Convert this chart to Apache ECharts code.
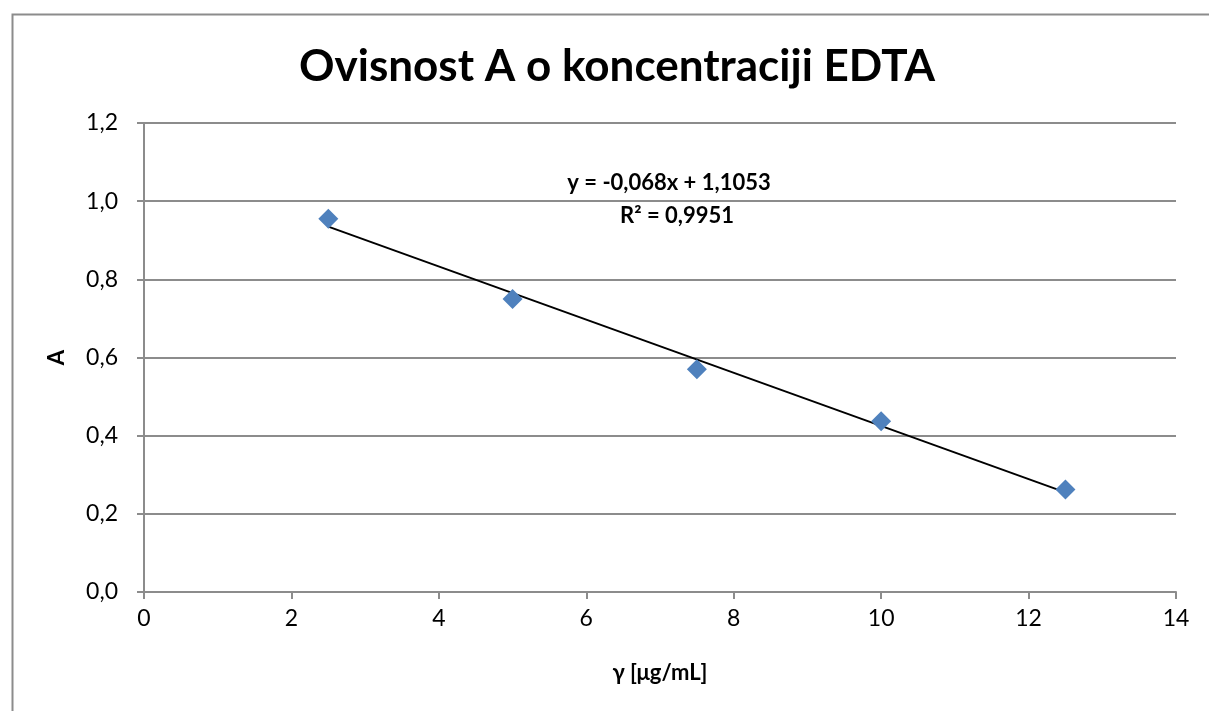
<!DOCTYPE html>
<html>
<head>
<meta charset="utf-8">
<script src="https://cdn.jsdelivr.net/npm/echarts@6/dist/echarts.min.js"></script>
<style>
  html, body { margin: 0; padding: 0; background: #fff; }
  #chart { width: 1209px; height: 711px; }
</style>
</head>
<body>
<div id="chart"></div>
<script>
// measured points: concentration (µg/mL) vs absorbance
const concentration = [2.5, 5, 7.5, 10, 12.5];
const absorbance = [0.955, 0.750, 0.570, 0.437, 0.262];
// linear trendline ends
const trendX = [2.5, 12.5];
const trendY = [0.935, 0.255];
const trendText = ["y = -0,068x + 1,1053", "R² = 0,9951"];

const font = "Lato, 'Open Sans', sans-serif";
const gridGray = "#8c8c8c";

const chart = echarts.init(document.getElementById("chart"));

chart.setOption({
  animation: false,
  backgroundColor: "#fff",
  title: {
    text: "Ovisnost A o koncentraciji EDTA",
    left: 612,
    textAlign: "center",
    top: 40,
    textStyle: { fontFamily: font, fontSize: 44, fontWeight: "bold", color: "#000" }
  },
  grid: { left: 144, right: 33, top: 123, bottom: 119 },
  xAxis: {
    type: "value",
    min: 0,
    max: 14,
    interval: 2,
    name: "γ [μg/mL]",
    nameLocation: "middle",
    nameGap: 70,
    nameTextStyle: { fontFamily: font, fontSize: 22, fontWeight: "bold", color: "#000" },
    axisLine: { show: true, lineStyle: { color: gridGray, width: 2 } },
    axisTick: { show: true, inside: false, length: 7, lineStyle: { color: gridGray, width: 2 } },
    axisLabel: { fontFamily: font, fontSize: 23, color: "#000", margin: 15 },
    splitLine: { show: false }
  },
  yAxis: {
    type: "value",
    min: 0,
    max: 1.2,
    interval: 0.2,
    name: "A",
    nameLocation: "middle",
    nameGap: 76,
    nameRotate: 90,
    nameTextStyle: { fontFamily: font, fontSize: 22, fontWeight: "bold", color: "#000" },
    axisLine: { show: true, lineStyle: { color: gridGray, width: 2 } },
    axisTick: { show: true, inside: false, length: 7, lineStyle: { color: gridGray, width: 2 } },
    axisLabel: {
      fontFamily: font,
      fontSize: 23,
      color: "#000",
      margin: 26,
      formatter: v => v.toFixed(1).replace(".", ",")
    },
    splitLine: { show: true, lineStyle: { color: gridGray, width: 2 } }
  },
  series: [
    {
      name: "trend",
      type: "line",
      data: trendX.map((x, i) => [x, trendY[i]]),
      symbol: "none",
      lineStyle: { color: "#000", width: 2 },
      z: 2
    },
    {
      name: "A",
      type: "scatter",
      data: concentration.map((x, i) => [x, absorbance[i]]),
      symbol: "diamond",
      symbolSize: [20, 20],
      itemStyle: { color: "#4f81bd", opacity: 1 },
      z: 3
    }
  ],
  graphic: [
    {
      type: "rect",
      left: 10,
      top: 12,
      shape: { width: 1300, height: 800 },
      style: { fill: "none", stroke: "#8c8c8c", lineWidth: 2 },
      silent: true
    },
    {
      type: "text",
      x: 669,
      y: 183,
      style: {
        text: trendText[0],
        fontFamily: font, fontSize: 22, fontWeight: "bold", fill: "#000",
        textAlign: "center", textVerticalAlign: "middle"
      }
    },
    {
      type: "text",
      x: 677,
      y: 216,
      style: {
        text: trendText[1],
        fontFamily: font, fontSize: 22, fontWeight: "bold", fill: "#000",
        textAlign: "center", textVerticalAlign: "middle"
      }
    }
  ]
});
</script>
</body>
</html>
